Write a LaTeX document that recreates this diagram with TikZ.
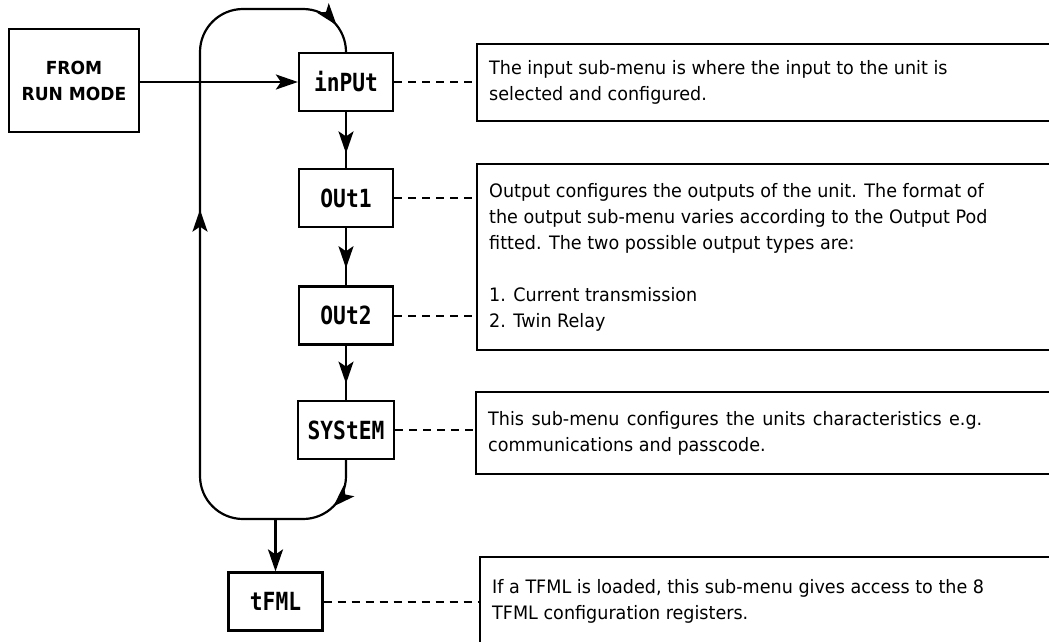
\documentclass[tikz,border=0pt]{standalone}
\usepackage{fontspec}
\setmainfont{DejaVu Sans}[FakeStretch=0.95]
\newfontfamily\segfont{DejaVu Sans Mono}[FakeStretch=0.85]
\usetikzlibrary{arrows.meta}
\usetikzlibrary{decorations.markings}

\tikzset{
  >={Stealth[length=22pt,width=15pt,inset=5pt]},
  flow/.style={line width=2.2pt},
  midarrow/.style={postaction={decorate},
    decoration={markings,mark=at position #1 with {\arrow{>}}}},
  menubox/.style={draw, line width=2.2pt, minimum width=94pt, minimum height=58pt,
    inner sep=0pt, font=\segfont\bfseries\fontsize{25}{25}\selectfont},
  runbox/.style={draw, line width=2.2pt, minimum width=130pt, minimum height=103pt,
    align=center, font=\bfseries\fontsize{18}{26}\selectfont},
  infobox/.style={draw, line width=2.2pt, anchor=north west, minimum width=620pt},
  infotext/.style={anchor=west, inner xsep=13pt, align=left,
    font=\fontsize{18.5}{26}\selectfont},
  leader/.style={line width=2pt, dash pattern=on 8pt off 6pt}
}

\begin{document}
\begin{tikzpicture}[x=1pt,y=-1pt]
      \useasboundingbox (0,0) rectangle (1049,642);
      \clip (0,0) rectangle (1049,642);

      \node[runbox] (run) at (74,80.5) {FROM\\RUN MODE};
      \node[menubox] (inp) at (346,82) {inPUt};
      \node[menubox] (out1) at (346,198) {OUt1};
      \node[menubox] (out2) at (346,315.5) {OUt2};
      \node[menubox, minimum width=96pt] (sys) at (346,430) {SYStEM};
      \node[menubox] (tfml) at (275.5,601.5) {tFML};

      \node[infobox, minimum height=77pt] (iinp) at (476,43) {};
      \node[infobox, minimum height=186pt] (iout) at (476,163) {};
      \node[infobox, minimum height=82pt] (isys) at (475,391) {};
      \node[infobox, minimum height=100pt] (itfml) at (479,556) {};

      \node[infotext] at (iinp.west) {The input sub-menu is where the input to the unit is\\
        selected and configured.};
      \node[infotext] at (iout.west) {Output configures the outputs of the unit. The format of\\
        the output sub-menu varies according to the Output Pod\\
        fitted. The two possible output types are:\\[26pt]
        1. Current transmission\\
        2. Twin Relay};
      \node[infotext, text width=494pt, align=justify] at (isys.west)
        {This sub-menu configures the units characteristics e.g.\linebreak
        communications and passcode.};
      \node[infotext] at (tfml.east -| itfml.west) {If a TFML is loaded, this sub-menu gives access to the 8\\
        TFML configuration registers.};

      \coordinate (bl) at (200,519);
      \coordinate (tl) at (200,9);
      \coordinate (mrg) at (tfml.north |- bl);

      \draw[flow,->] (run.east |- inp.west) -- (inp.west);
      \draw[flow, midarrow=0.74] (inp) -- (out1);
      \draw[flow, midarrow=0.7] (out1) -- (out2);
      \draw[flow, midarrow=0.7] (out2) -- (sys);
      \draw[flow, rounded corners=43pt, postaction={decorate},
        decoration={markings,
          mark=at position 0.06 with {\arrow{>}},
          mark=at position 0.575 with {\arrow{>}},
          mark=at position 0.965 with {\arrow{>}}}]
        (sys.south) |- (bl) -- (tl) -| (inp.north);
      \draw[flow,->] (mrg) -- (tfml);

      \draw[leader] (inp.east) -- (inp.east -| iinp.west);
      \draw[leader] (out1.east) -- (out1.east -| iout.west);
      \draw[leader] (out2.east) -- (out2.east -| iout.west);
      \draw[leader] (sys.east) -- (sys.east -| isys.west);
      \draw[leader] (tfml.east) -- (tfml.east -| itfml.west);

    \end{tikzpicture}
\end{document}
